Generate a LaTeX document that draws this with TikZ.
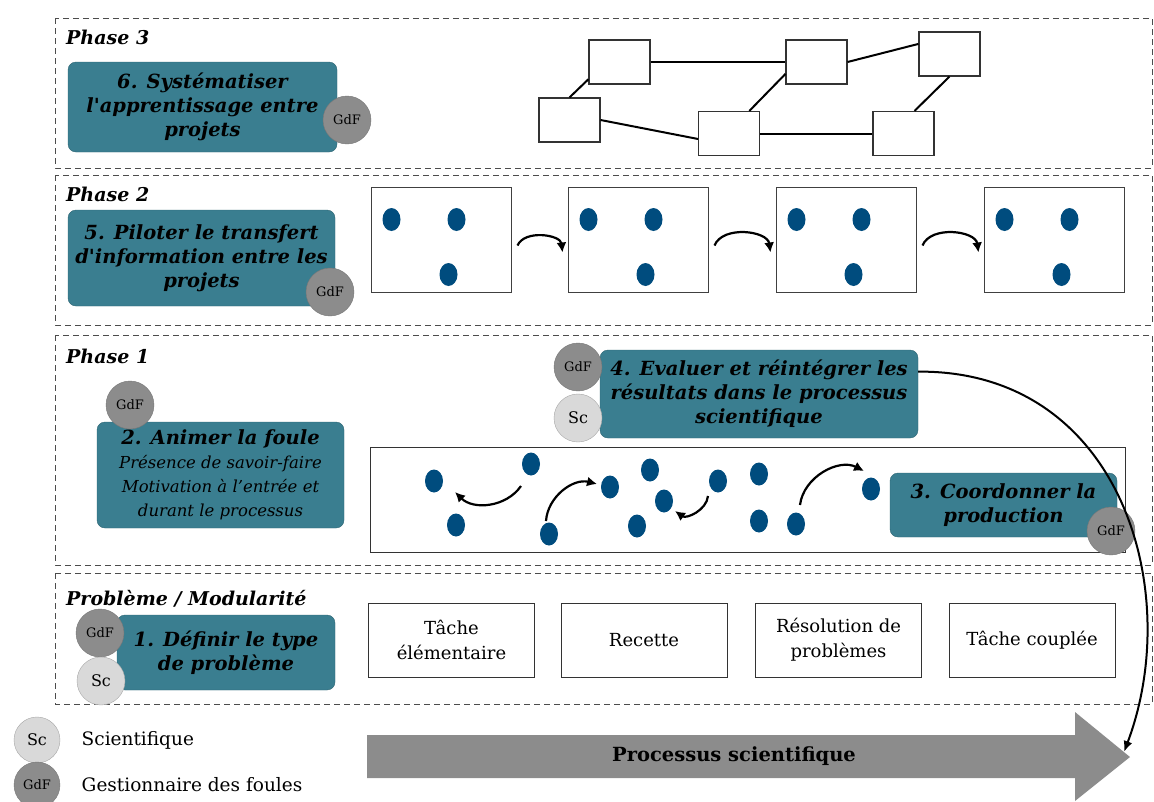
\documentclass[tikz,border=0pt]{standalone}
\usepackage{fontspec}
\setmainfont{DejaVu Serif}
\usetikzlibrary{arrows.meta,positioning,calc,shapes.geometric}

\definecolor{stepteal}{RGB}{58,126,144}
\definecolor{dotblue}{RGB}{0,76,126}
\definecolor{gdfgray}{RGB}{140,140,140}
\definecolor{scgray}{RGB}{217,217,217}
\newcommand{\subline}[1]{{\fontsize{16.5}{23}\selectfont\mdseries\itshape #1}}
\newcommand{\sq}{\textquotesingle}

\begin{document}
\begin{tikzpicture}[x=1pt,y=-1pt,
    >=Latex,
    phase/.style={draw=black!70,dashed,dash pattern=on 6pt off 4pt,line width=0.8pt},
    phlabel/.style={anchor=west,inner sep=0pt,font=\fontsize{19}{21}\selectfont\bfseries\itshape},
    stepbox/.style={rectangle,rounded corners=8pt,fill=stepteal,draw=stepteal!80!black,align=center,inner sep=2pt,
                    font=\fontsize{19.5}{24}\selectfont\bfseries\itshape},
    gdf/.style={circle,fill=gdfgray,draw=gdfgray!85!black,minimum size=48pt,inner sep=0pt,font=\fontsize{13}{15}\selectfont},
    sc/.style={circle,fill=scgray,draw=black!35,minimum size=48pt,inner sep=0pt,font=\fontsize{16}{18}\selectfont},
    frame/.style={rectangle,draw=black!75,line width=1pt,minimum width=140pt,minimum height=105pt,inner sep=0pt},
    net/.style={rectangle,draw=black!80,line width=1.1pt,fill=white,minimum width=61pt,minimum height=44pt,inner sep=0pt},
    link/.style={line width=2pt},
    task/.style={rectangle,draw=black!80,line width=1pt,fill=white,minimum width=166pt,minimum height=74pt,align=center,
                 font=\fontsize{18}{25}\selectfont},
    dot/.style={ellipse,fill=dotblue,minimum width=18pt,minimum height=23pt,inner sep=0pt},
    mv/.style={line width=2.2pt,-{Latex[length=10pt,width=10pt]}},
    every node/.style={font=\fontsize{18.5}{22}\selectfont}]
  \useasboundingbox (0,0) rectangle (1154,801);

  % ---- dashed phase bands ----
  \draw[phase] (55,18) rectangle (1152,168);
  \draw[phase] (55,175) rectangle (1152,325);
  \draw[phase] (55,335) rectangle (1152,565);
  \draw[phase] (55,573) rectangle (1152,704);
  \node[phlabel] (lp3) at (66,37) {Phase 3};
  \node[phlabel] (lp2) at (66,194) {Phase 2};
  \node[phlabel] (lp1) at (66,356) {Phase 1};
  \node[phlabel] (lp0) at (66,599) {Problème / Modularité};

  % ---- phase 3: network of projects ----
  \node[net] (na) at (619.5,62) {};
  \node[net] (nb) at (569.5,120) {};
  \node[net] (nc) at (729,133.5) {};
  \node[net] (nd) at (816.5,62) {};
  \node[net] (ne) at (949.5,54) {};
  \node[net] (nf) at (903.5,133.5) {};
  \draw[link] (na.east) -- (nd.west);
  \draw[link] (nb.north) -- (na.209);
  \draw[link] (nb.east) -- (nc.190);
  \draw[link] (nc.48) -- (nd.201);
  \draw[link] (nd.east) -- (ne.162);
  \draw[link] (nf.64) -- (ne.south);
  \draw[link] (nc.east) -- (nf.west);
  \node[stepbox,minimum width=269pt,minimum height=90pt] (s6) at (202.5,107)
    {6. Systématiser\\l\sq apprentissage entre\\projets};
  \node[gdf] (g6) at (347,120) {GdF};

  % ---- phase 2: transfer between projects ----
  \foreach \i/\x in {1/371,2/568,3/776,4/984} {
    \node[frame] (f\i) at (\x+70,239.5) {};
    \node[dot] (f\i a) at ($(f\i.north west)+(21,33)$) {};
    \node[dot] (f\i b) at ($(f\i.north west)+(86,33)$) {};
    \node[dot] (f\i c) at ($(f\i.north west)+(78,88)$) {};
  }
  \foreach \i/\j in {1/2,2/3,3/4}
    \draw[mv] ($(f\i.east)+(6,6)$) to[bend left=75] ($(f\j.west)+(-5,13)$);
  \node[stepbox,minimum width=267pt,minimum height=96pt] (s5) at (201.5,258)
    {5. Piloter le transfert\\d\sq information entre les\\projets};
  \node[gdf] (g5) at (330,292) {GdF};

  % ---- phase 1: crowd production ----
  \node[rectangle,draw=black!80,line width=1pt,minimum width=755pt,minimum height=105pt] (crowd) at (747.5,499.5) {};
  \foreach \n/\x/\y in {1/434/481,2/531/464,3/456/525,4/549/534,5/610/487,6/650/470,7/664/501,
                        8/637/526,9/718/481,10/759/474,11/759/521,12/796/524,13/871/489}
    \node[dot] (d\n) at (\x,\y) {};
  \coordinate (m1s) at (521,486); \coordinate (m1e) at (455,492);
  \coordinate (m2s) at (546,521); \coordinate (m2e) at (597,484);
  \coordinate (m3s) at (708,496); \coordinate (m3e) at (675,511);
  \coordinate (m4s) at (800,505); \coordinate (m4e) at (864,471);
  \draw[mv] (m1s) to[bend left=50] (m1e);
  \draw[mv] (m2s) to[bend left=50] (m2e);
  \draw[mv] (m3s) to[bend left=60] (m3e);
  \draw[mv] (m4s) to[bend left=55] (m4e);
  \node[stepbox,minimum width=247pt,minimum height=106pt] (s2) at (220.5,475)
    {2. Animer la foule\\\subline{Présence de savoir-faire}\\\subline{Motivation à l’entrée et}\\\subline{durant le processus}};
  \node[gdf] (g2) at (130,405) {GdF};
  \node[stepbox,minimum width=318pt,minimum height=88pt] (s4) at (759,394)
    {4. Evaluer et réintégrer les\\résultats dans le processus\\scientifique};
  \node[gdf] (g4) at (578,367) {GdF};
  \node[sc] (c4) at (578,418) {Sc};
  \node[stepbox,minimum width=227pt,minimum height=64pt] (s3) at (1003.5,505)
    {3. Coordonner la\\production};
  \node[gdf] (g3) at (1111,531) {GdF};

  % ---- problem type ----
  \node[task] (t1) at (451.5,640) {Tâche\\élémentaire};
  \node[task] (t2) at (644,640) {Recette};
  \node[task] (t3) at (838.5,640) {Résolution de\\problèmes};
  \node[task] (t4) at (1032,640) {Tâche couplée};
  \node[stepbox,minimum width=218pt,minimum height=75pt] (s1) at (226,652.5)
    {1. Définir le type\\de problème};
  \node[gdf] (g1) at (100,633) {GdF};
  \node[sc] (c1) at (101,681) {Sc};

  % ---- scientific process arrow ----
  \fill[gdfgray] (367,735) -- (1075,735) -- (1075,712) -- (1130,757) -- (1075,801)
    -- (1075,778) -- (367,778) -- cycle;
  \node[font=\fontsize{19.5}{22}\selectfont\bfseries] (proc) at (734,756) {Processus scientifique};
  \coordinate (tip) at (1124,752);
  \draw[line width=2pt,-{Latex[length=11pt,width=9pt]}] (s4.8) .. controls (1120,370) and (1185,590) .. (tip);

  % ---- legend ----
  \node[sc,minimum size=46pt] (cL) at (37,740) {Sc};
  \node[gdf,minimum size=46pt] (gL) at (37,785) {GdF};
  \node[anchor=west,right=18pt of cL] (lsc) {Scientifique};
  \node[anchor=west,right=18pt of gL] (lgdf) {Gestionnaire des foules};
\end{tikzpicture}
\end{document}
